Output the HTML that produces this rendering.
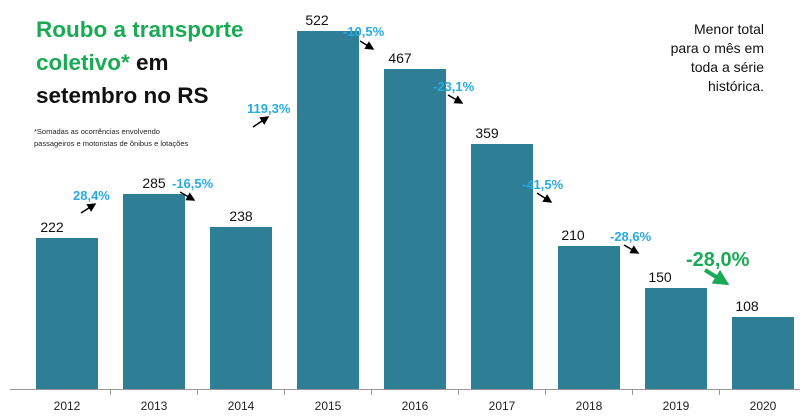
<!DOCTYPE html>
<html><head><meta charset="utf-8"><style>
body{margin:0;background:#fff}
svg{display:block;font-family:"Liberation Sans",sans-serif}
</style></head><body>
<svg width="800" height="418" viewBox="0 0 800 418" xmlns="http://www.w3.org/2000/svg">
<defs><marker id="a" markerWidth="6" markerHeight="6" refX="5" refY="3" orient="auto"><path d="M0,0 L6,3 L0,6 z" fill="#000"/></marker>
<marker id="g" markerWidth="4" markerHeight="4" refX="3" refY="2" orient="auto"><path d="M0,0 L4,2 L0,4 z" fill="#1aaa55"/></marker></defs>
<g fill="#2e7f96">
<rect x="36" y="238" width="62" height="151"/>
<rect x="123" y="194" width="62" height="195"/>
<rect x="210" y="227" width="62" height="162"/>
<rect x="297" y="31" width="62" height="358"/>
<rect x="384" y="69" width="62" height="320"/>
<rect x="471" y="144" width="62" height="245"/>
<rect x="558" y="246" width="62" height="143"/>
<rect x="645" y="288" width="62" height="101"/>
<rect x="732" y="317" width="62" height="72"/>
</g>
<line x1="10" y1="389.5" x2="800" y2="389.5" stroke="#999"/>
<g stroke="#999"><line x1="110.5" y1="389" x2="110.5" y2="395"/><line x1="197.5" y1="389" x2="197.5" y2="395"/><line x1="284.5" y1="389" x2="284.5" y2="395"/><line x1="371.5" y1="389" x2="371.5" y2="395"/><line x1="458.5" y1="389" x2="458.5" y2="395"/><line x1="545.5" y1="389" x2="545.5" y2="395"/><line x1="632.5" y1="389" x2="632.5" y2="395"/><line x1="719.5" y1="389" x2="719.5" y2="395"/></g>
<g font-size="12" text-anchor="middle" fill="#222">
<text x="67" y="410">2012</text><text x="154" y="410">2013</text><text x="241" y="410">2014</text><text x="328" y="410">2015</text><text x="415" y="410">2016</text><text x="502" y="410">2017</text><text x="589" y="410">2018</text><text x="676" y="410">2019</text><text x="763" y="410">2020</text>
</g>
<g font-size="14" text-anchor="middle" fill="#111">
<text x="52" y="232">222</text><text x="154" y="188">285</text><text x="241" y="221">238</text><text x="317" y="25">522</text><text x="400" y="63">467</text><text x="487" y="138">359</text><text x="573" y="240">210</text><text x="660" y="282">150</text><text x="747" y="311">108</text>
</g>
<g font-size="13" font-weight="bold" fill="#29aae1">
<text x="73" y="200">28,4%</text><text x="172" y="188">-16,5%</text><text x="247" y="113">119,3%</text><text x="343" y="36">-10,5%</text><text x="433" y="91">-23,1%</text><text x="522" y="189">-41,5%</text><text x="610" y="241">-28,6%</text>
</g>
<g stroke="#000" stroke-width="1.5" marker-end="url(#a)">
<line x1="81" y1="213" x2="95" y2="204"/><line x1="180" y1="192" x2="194" y2="200"/><line x1="253" y1="127" x2="268" y2="117"/><line x1="360" y1="41" x2="373" y2="49"/><line x1="448" y1="95" x2="462" y2="103"/><line x1="537" y1="193" x2="551" y2="202"/><line x1="624" y1="245" x2="638" y2="253"/>
</g>
<text x="686" y="266" font-size="20" font-weight="bold" fill="#1aaa55">-28,0%</text>
<line x1="705" y1="270" x2="726" y2="283" stroke="#1aaa55" stroke-width="4" marker-end="url(#g)"/>
<text font-size="22.5" font-weight="bold"><tspan x="36" y="37" fill="#1aaa55">Roubo a transporte</tspan><tspan x="36" y="70" fill="#1aaa55">coletivo*</tspan><tspan fill="#111"> em</tspan><tspan x="36" y="103" fill="#111">setembro no RS</tspan></text>
<text font-size="7.5" fill="#222"><tspan x="34" y="134">*Somadas as ocorrências envolvendo</tspan><tspan x="34" y="146">passageiros e motoristas de ônibus e lotações</tspan></text>
<text font-size="14" fill="#111" text-anchor="end"><tspan x="764" y="34">Menor total</tspan><tspan x="764" y="53">para o mês em</tspan><tspan x="764" y="72">toda a série</tspan><tspan x="764" y="91">histórica.</tspan></text>
</svg>
</body></html>
